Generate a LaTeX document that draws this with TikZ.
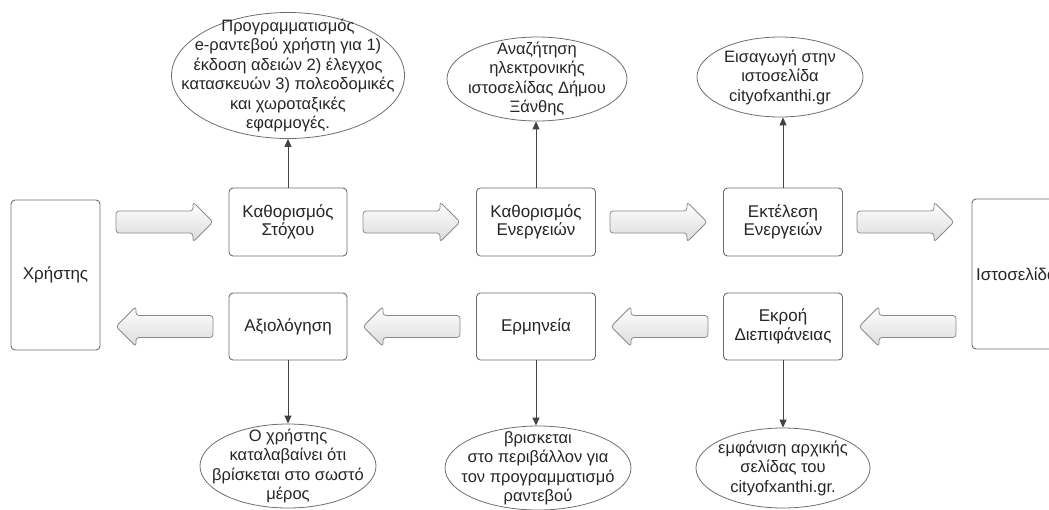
\documentclass[tikz,border=0pt]{standalone}
\usepackage{fontspec}
\setmainfont{Liberation Sans}
\usetikzlibrary{shapes.geometric,arrows.meta}
\definecolor{edge}{HTML}{6E6E6E}
\definecolor{link}{HTML}{3F4448}
\tikzset{
  txt/.style={font=\fontsize{16.5}{19.5}\selectfont, text=black!85, align=center},
  btxt/.style={font=\fontsize{17}{18.5}\selectfont, text=black!85, align=center},
  box/.style={draw=edge, line width=0.9pt, rounded corners=4pt, fill=white},
  ell/.style={draw=edge, line width=0.8pt, ellipse, inner sep=0pt},
  conn/.style={draw=link, line width=0.9pt, -{Triangle[length=8pt,width=7pt]}},
  blk/.style={draw=edge!80, line width=0.8pt, rounded corners=3pt,
              top color=white, bottom color=black!14},
  rightblock/.pic={
    \path[blk] (0,-11) -- (77,-11) -- (77,-20) -- (97,0) -- (77,20) -- (77,11) -- (0,11) -- cycle;
  },
  leftblock/.pic={
    \path[blk] (97,-11) -- (20,-11) -- (20,-20) -- (0,0) -- (20,20) -- (20,11) -- (97,11) -- cycle;
  }
}
\begin{document}
\begin{tikzpicture}[x=1pt,y=-1pt]
\useasboundingbox (0,0) rectangle (1049,509);

% side boxes
\draw[box] (11,200) rectangle (100,350);
\node[btxt] (user) at (55.5,275) {Χρήστης};
\draw[box] (972,199) rectangle (1061,349);
\node[btxt] (site) at (1016.5,274) {Ιστοσελίδα};

% process boxes, top row
\node[box, btxt, minimum width=118pt, minimum height=68pt] (goal) at (288,222) {Καθορισμός\\Στόχου};
\node[box, btxt, minimum width=119pt, minimum height=68pt] (plan) at (536,222) {Καθορισμός\\Ενεργειών};
\node[box, btxt, minimum width=119pt, minimum height=68pt] (exec) at (783,222) {Εκτέλεση\\Ενεργειών};

% process boxes, bottom row
\node[box, btxt, minimum width=118pt, minimum height=67pt] (eval) at (288,326.5) {Αξιολόγηση};
\node[box, btxt, minimum width=119pt, minimum height=67pt] (interp) at (536,326.5) {Ερμηνεία};
\node[box, btxt, minimum width=119pt, minimum height=67pt] (out) at (783,326.5) {Εκροή\\Διεπιφάνειας};

% block arrows between the columns
\pic at (116,222) {rightblock};
\pic at (363,222) {rightblock};
\pic at (610,222) {rightblock};
\pic at (857,222) {rightblock};
\pic at (116,326.5) {leftblock};
\pic at (363,326.5) {leftblock};
\pic at (611,326.5) {leftblock};
\pic at (859,326.5) {leftblock};

% top ellipses
\node[ell, minimum width=233pt, minimum height=126pt] (t1) at (288,75.5) {};
\node[txt] at (t1) {Προγραμματισμός\\e-ραντεβού χρήστη για 1)\\έκδοση αδειών 2) έλεγχος\\κατασκευών 3) πολεοδομικές\\και χωροταξικές\\εφαρμογές.};
\node[ell, minimum width=180pt, minimum height=84pt] (t2) at (537,79) {};
\node[txt] at (t2) {Αναζήτηση\\ηλεκτρονικής\\ιστοσελίδας Δήμου\\Ξάνθης};
\node[ell, minimum width=166pt, minimum height=80pt] (t3) at (780,77) {};
\node[txt] at (t3) {Εισαγωγή στην\\ιστοσελίδα\\cityofxanthi.gr};

% bottom ellipses
\node[ell, minimum width=176pt, minimum height=84pt] (b1) at (288,466) {};
\node[txt] at (b1) {Ο χρήστης\\καταλαβαίνει ότι\\βρίσκεται στο σωστό\\μέρος};
\node[ell, minimum width=186pt, minimum height=84pt] (b2) at (538,468) {};
\node[txt] at (b2) {βρισκεται\\στο περιβάλλον για\\τον προγραμματισμό\\ραντεβού};
\node[ell, minimum width=174pt, minimum height=80pt] (b3) at (783,468) {};
\node[txt] at (b3) {εμφάνιση αρχικής\\σελίδας του\\cityofxanthi.gr.};

% connectors
\draw[conn] (goal.north) -- (goal.north |- t1.south);
\draw[conn] (plan.north) -- (plan.north |- t2.south);
\draw[conn] (exec.north) -- (exec.north |- t3.south);
\draw[conn] (eval.south) -- (b1.north);
\draw[conn] (interp.south) -- (interp.south |- b2.north);
\draw[conn] (out.south) -- (out.south |- b3.north);
\end{tikzpicture}
\end{document}
